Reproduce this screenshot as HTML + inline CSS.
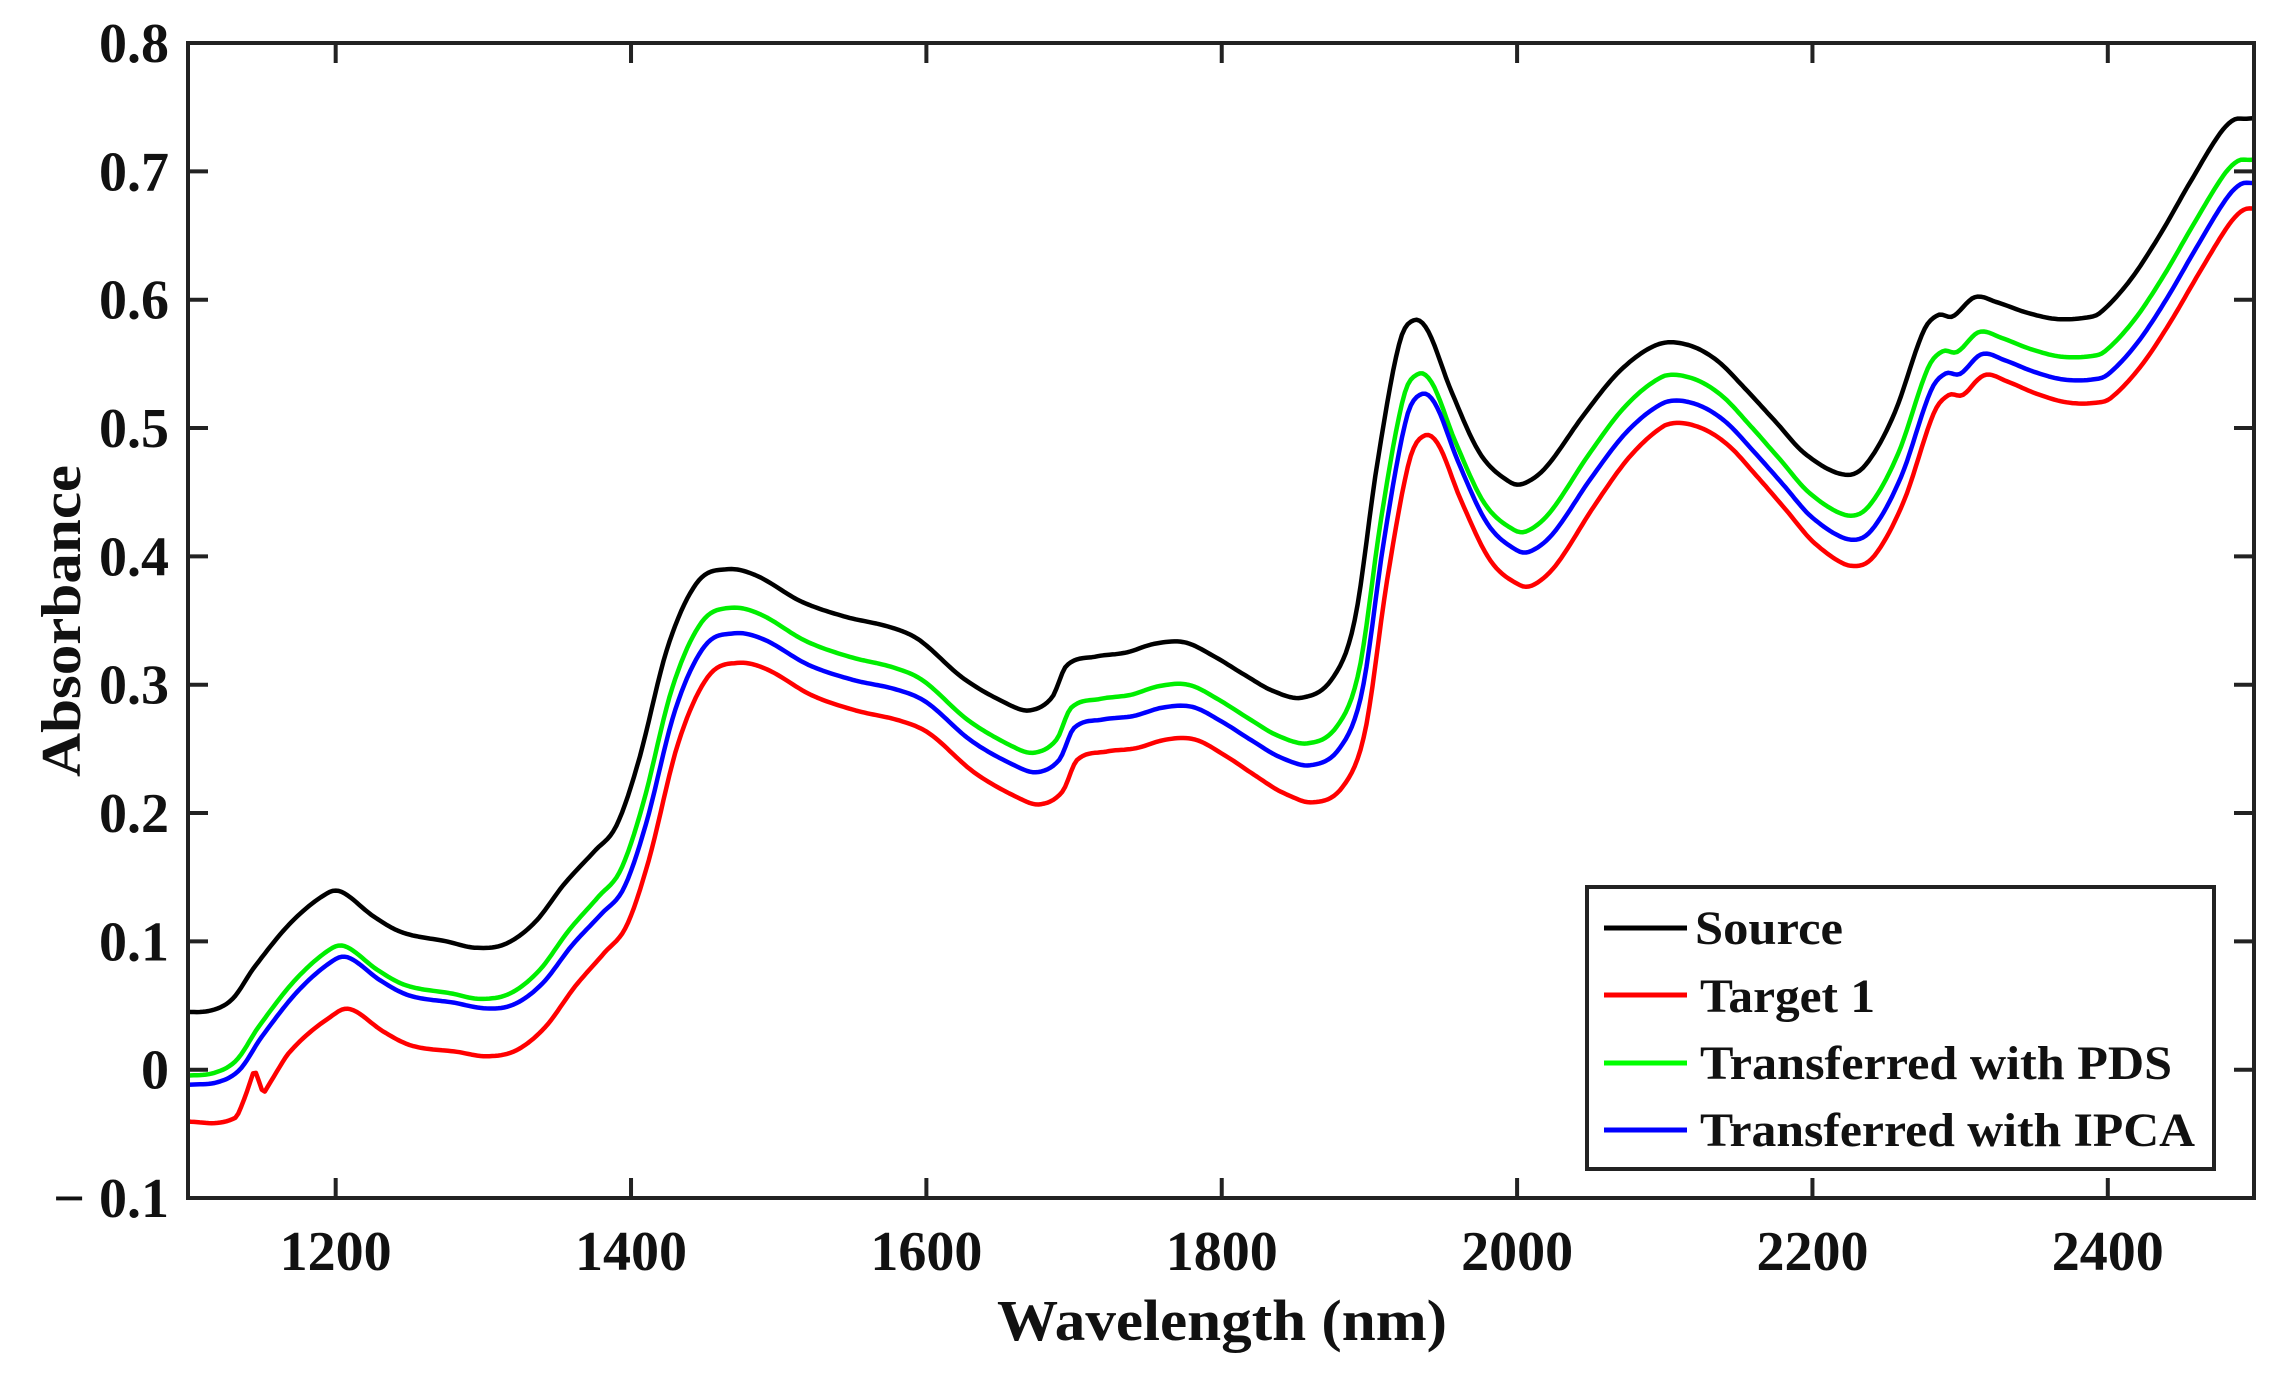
<!DOCTYPE html>
<html><head><meta charset="utf-8"><style>
html,body{margin:0;padding:0;background:#fff;}
svg{display:block;}
text{font-family:"Liberation Serif",serif;font-weight:bold;fill:#111;}
</style></head><body>
<svg id="s" width="2288" height="1379" xmlns="http://www.w3.org/2000/svg">
<g id="curves"></g>
<rect x="188" y="43" width="2066" height="1155" fill="none" stroke="#222" stroke-width="4"/>
<g id="ticks" stroke="#222" stroke-width="4"></g>
<g id="labels" font-size="56"></g>
<text x="1222" y="1340" font-size="58" text-anchor="middle" textLength="450" lengthAdjust="spacingAndGlyphs">Wavelength (nm)</text>
<text transform="translate(80,621) rotate(-90)" font-size="56" text-anchor="middle" textLength="312" lengthAdjust="spacingAndGlyphs">Absorbance</text>
<rect x="1587" y="887" width="627" height="282" fill="#fff" stroke="#222" stroke-width="4"/>
<g stroke-width="5">
<line x1="1604" y1="928" x2="1687" y2="928" stroke="#000"/>
<line x1="1604" y1="995" x2="1687" y2="995" stroke="#f00"/>
<line x1="1604" y1="1063" x2="1687" y2="1063" stroke="#0f0"/>
<line x1="1604" y1="1130" x2="1687" y2="1130" stroke="#00f"/>
</g>
<g font-size="48">
<text x="1695" y="944" textLength="148" lengthAdjust="spacingAndGlyphs">Source</text>
<text x="1700" y="1012" textLength="175" lengthAdjust="spacingAndGlyphs">Target 1</text>
<text x="1700" y="1079" textLength="472" lengthAdjust="spacingAndGlyphs">Transferred with PDS</text>
<text x="1700" y="1146" textLength="495" lengthAdjust="spacingAndGlyphs">Transferred with IPCA</text>
</g>
</svg>
<script>
var X0=188,X1=2254,N0=1100,N1=2499,Y0=1069.7,PY=1283.3,SH=5;
function px(n){return X0+(n-N0)*(X1-X0)/(N1-N0);}
function py(v){return Y0-v*PY;}
var src=[[1100,.045],[1120,.046],[1135,.055],[1150,.08],[1175,.115],[1200,.138],[1210,.138],[1230,.12],[1250,.107],[1280,.1],[1300,.095],[1320,.098],[1340,.115],[1360,.145],[1380,.17],[1395,.19],[1410,.24],[1430,.33],[1450,.38],[1470,.39],[1490,.385],[1520,.365],[1550,.353],[1580,.345],[1600,.335],[1630,.305],[1660,.285],[1675,.28],[1690,.29],[1700,.315],[1720,.322],[1740,.325],[1760,.332],[1780,.333],[1800,.322],[1820,.308],[1840,.295],[1860,.29],[1880,.305],[1895,.35],[1910,.47],[1925,.565],[1935,.584],[1945,.575],[1960,.53],[1980,.48],[2000,.458],[2010,.457],[2025,.47],[2050,.51],[2075,.545],[2100,.565],[2120,.565],[2140,.553],[2160,.53],[2180,.505],[2200,.48],[2225,.464],[2240,.47],[2260,.51],[2280,.575],[2290,.588],[2300,.587],[2315,.602],[2330,.598],[2350,.59],[2370,.585],[2390,.586],[2400,.59],[2420,.615],[2440,.65],[2460,.69],[2480,.728],[2490,.74],[2499,.741],[2510,.742]];
var offs={
g:[[1100,-.05],[1200,-.043],[1300,-.04],[1470,-.03],[1670,-.033],[1775,-.033],[1855,-.035],[1935,-.042],[2010,-.037],[2105,-.025],[2228,-.032],[2315,-.027],[2390,-.03],[2499,-.032]],
b:[[1100,-.057],[1200,-.052],[1300,-.047],[1470,-.05],[1670,-.048],[1775,-.05],[1855,-.052],[1935,-.058],[2010,-.053],[2105,-.045],[2228,-.051],[2315,-.044],[2390,-.048],[2499,-.05]],
r:[[1100,-.085],[1200,-.093],[1300,-.085],[1470,-.073],[1670,-.073],[1775,-.075],[1855,-.08],[1935,-.091],[2010,-.08],[2105,-.062],[2228,-.072],[2315,-.06],[2390,-.066],[2499,-.07]]};
function lin(a,n){if(n<=a[0][0])return a[0][1];for(var i=1;i<a.length;i++){if(n<=a[i][0]){var t=(n-a[i-1][0])/(a[i][0]-a[i-1][0]);return a[i-1][1]+t*(a[i][1]-a[i-1][1]);}}return a[a.length-1][1];}
function cr(a,n){var i=1;while(i<a.length-1&&a[i][0]<n)i++;var p1=a[i-1],p2=a[i],p0=a[Math.max(0,i-2)],p3=a[Math.min(a.length-1,i+1)];var t=(n-p1[0])/(p2[0]-p1[0]);t=Math.max(0,Math.min(1,t));var m1=(p2[1]-p0[1])/(p2[0]-p0[0])*(p2[0]-p1[0]),m2=(p3[1]-p1[1])/(p3[0]-p1[0])*(p2[0]-p1[0]);var t2=t*t,t3=t2*t;return (2*t3-3*t2+1)*p1[1]+(t3-2*t2+t)*m1+(-2*t3+3*t2)*p2[1]+(t3-t2)*m2;}
function path(k,shift,col){var d="";for(var n=N0;n<=N1;n+=2){var m=n+SH;var v;if(k)v=cr(src,Math.max(N0,m-shift))+lin(offs[k],m);else v=cr(src,m);
if(k=='r'){if(m>=1138&&m<=1150)v+=(m-1138)/12*0.022;else if(m>1150&&m<=1156)v+=0.022-(m-1150)/6*0.03;else if(m>1156&&m<=1172)v+=-0.008+(m-1156)/16*0.008;}
d+=(d?"L":"M")+px(n).toFixed(1)+","+py(v).toFixed(1);}
return '<path d="'+d+'" fill="none" stroke="'+col+'" stroke-width="4.5" stroke-linejoin="round"/>';}
var g=document.getElementById("curves");
g.innerHTML=path(null,0,"#000")+path('g',3,"#00ee00")+path('b',5,"#0000ff")+path('r',7,"#ff0000");
var t="",l="";
for(var n=1200;n<=2400;n+=200){var x=px(n);t+='<line x1="'+x+'" y1="1198" x2="'+x+'" y2="1178"/><line x1="'+x+'" y1="43" x2="'+x+'" y2="63"/>';l+='<text x="'+x+'" y="1270" text-anchor="middle">'+n+'</text>';}
for(var i=-1;i<=8;i++){var y=py(i/10);t+='<line x1="188" y1="'+y+'" x2="208" y2="'+y+'"/><line x1="2254" y1="'+y+'" x2="2234" y2="'+y+'"/>';var s=i==0?"0":(i<0?"\u2212 0.1":"0."+i);l+='<text x="169" y="'+(y+19)+'" text-anchor="end">'+s+'</text>';}
document.getElementById("ticks").innerHTML=t;document.getElementById("labels").innerHTML=l;
</script>
</body></html>
